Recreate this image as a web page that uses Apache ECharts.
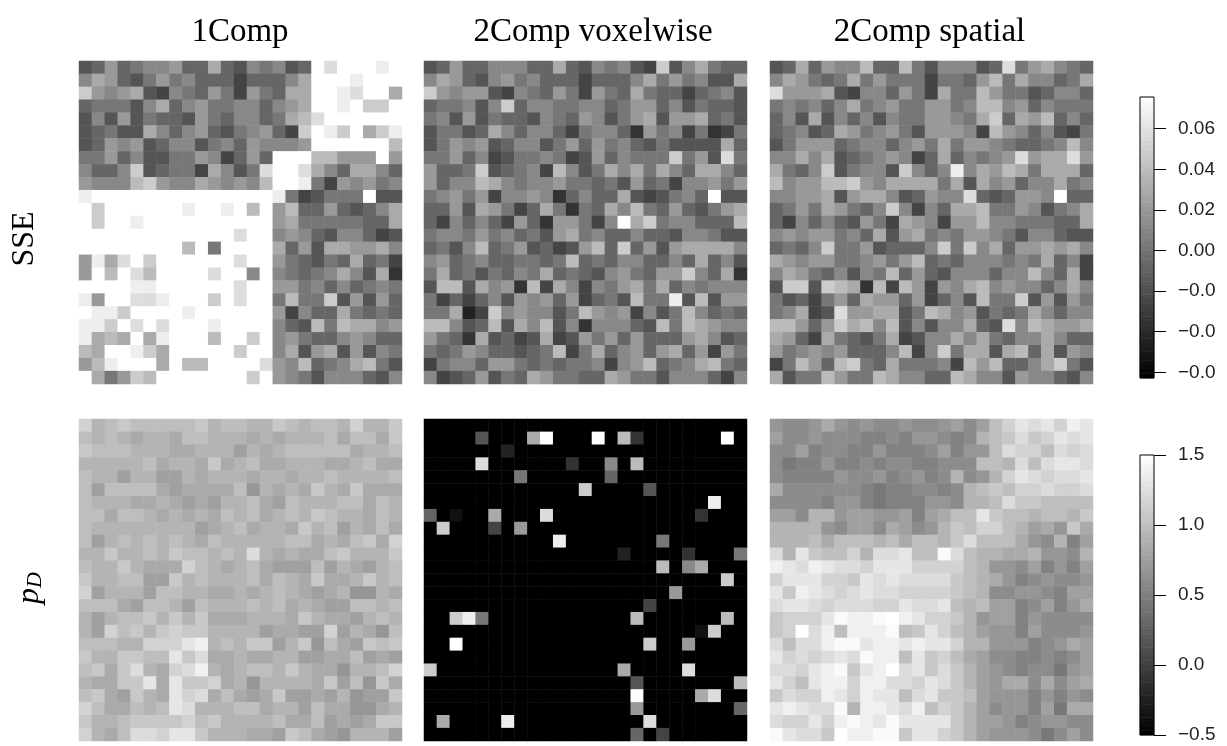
<!DOCTYPE html>
<html><head><meta charset="utf-8">
<style>html,body{margin:0;padding:0;background:#fff}#c{width:1227px;height:746px}</style>
<script src="https://cdn.jsdelivr.net/npm/echarts@6/dist/echarts.min.js"></script>
</head><body><div id="c"></div>
<script>
// Each string is one row of cells, top to bottom; each character is a level.
const sse1Comp = [
"5696788966a6587856fdfffef","8a965797866646668afffefff","c989a54876974976aaffedffa","677758a6897788689affefccf","5859576659768867abdffffff",
"56755a86896578964cfecface","569895688578698889ffffffb","779685577984696fffbb999f9","8668c56774a857dffda86aa86","9888bc988a9898bffe7498978",
"effffffffffffffe745777f55","fcffffffeffefbf9b6696568a","fcffeffffffffff9a7777766a","ffffffffffffdff8986588645","ffffffffbf7ffffa695aa99a8",
"9eadfcffffffdff976576a674","9fbfdbffffdff8f87678a85a3","ffffeeffffffdff9978686787","e9ffddefffcfdff7b77c59596","feecffffeffffff94866a7676",
"eecfdfdfffeffff865b7baa89","eabafaefffbffcf8976689866","baffecafffffcff8a59a59587","9befffafbbffffd98b678ab75","fa79cbfffffffcf9875888658"
];
const sseVoxelwise = [
"5696688866a6587854c58a766","8a965897866646668a797855a","c989954876974976a76646785","677858c688778867996857665","78595766587698579a599a675",
"57756a8688647886397847347","57989568857969786575555a6","7796845778745968777c795d7","9667c56784b857a8a7a86aa86","9688ba8788977675967488979",
"789794889836866a545786f55","6695a9746a7376a8b7696579a","648686496399748fac788666b","78879786759a7866866588755","6758b67956459b6c6959aaaa8",
"89678667767b676886686a685","7a6757687a6765897699c86a3","5bb5a893b4a84879a7a687888","7464685989694675b77e5b599","77a24c898857b9894857b8676",
"bb856b5a8b58388865b7ba988","9763a5645a45979696669a856","7679866567b47a68969a69497","47886997676778489b678ab76","84569576a97766a9775888648"
];
const sseSpatial = [
"56a6988b66b7588856d79a876","8a9767a7977747769b7a8867a","d999a54886974a77b97756886","787868a789779978bb8968777","685a586858779987ac6a9b686",
"67856a97897599984b9868547","5799967886897a799876678b8","88a8a56789846a68789d9aad9","a768c57885c868e8a9ba7aaa6","b899bbc98aaaa7a5a89688a78",
"8899a59aa856988d656998f66","6797a9768c8486aab7798578a","6486865974a98499b8877766a","89899786a59a7879987588655","6768c77956668c7c8a699a9a8",
"a9899778979b676888787a684","8a9768587b6965888688b86a4","5cc5cba3b4b9498ab898868a8","7564796a99694685b77c59597","78a45d99aa57ba895767a8688",
"bb969cab8b58588a65d8ba99a","a964a7657a4588a8a7688a866","9789896668b48c7aa5ab6a598","47b96bc76a77784b9b668ac75","a577b977ba8866ba885988658"
];
const pD1Comp = [
"6345444445344335434436335","4343233244333232333424425","5444333223331323444442334","3333342332523422333223422","4331331132333233233433334",
"4144442122224032325325222","4333223212133421433344243","4424432323243423435433243","4333333331234233253413242","4134343432433333442324526",
"3353343544343732322453335","4335322264323421114132134","5334411534333424325223534","6133314433223234321230032","4442144314333434232114434",
"3134453535222333253221343","3164535655333312211613204","4443366689343551350421545","5335544857223223311224121","4525732679323443532203346",
"3225582855623033332514052","4521532867242125112130115","6422434873334423314220023","5334555564533334224121255","6324776885333221542103331"
];
const pDVoxelwise = [
"0000000000000000000000000","00005000af000f0b3000000f0","0000002000000000000000000","0000d00000030080b00000000","0000000700000060000000000",
"000000000000c000050000000","0000000000000000000000e00","60100a000d000000000003000","0c00040900000000000000000","0000000000e00000007000000",
"0000000000000002000030007","000000000000000000b08a000","00000000000000000000000c0","0000000000000000000900000","0000000000000000040000000",
"00ce700000000000b000000b0","0000000000000000000001c00","00f00000000000000c0090000","0000000000000000000000000","c00000000000000a0000d0000",
"000000000000000050000000b","0000000000000000f0000ad00","0000000000000000900000006","0a0000e0000000000d0000000","0000000000000000604000000"
];
const pDSpatial = [
"433464343343345358acbcadc","5334333223244323789b9acbc","335233224222352448baa8bab","3122422323322333887b8bccb","322224334234237347acbabbc",
"6333333212233237898aabaab","333324421222443778b998888","5537745544525688c98878879","7777435536534798aa8756496","777868887868879b888643725",
"b7c988a7bbc88eb8776674437","dcbdcbbacccaaaa8744352425","acccaa9cbcbbbb98764234334","c9dcbabcbbaaaa98733443255","bccbabbbaacbbc87855235246",
"9aaaceddefdcaa97455243333","9afbd8ddde89ca87544253334","b8bbdeecddcdcca7744423465","cababcbedd8c9a86533223235","bbacde9cdfbc9b97543233145",
"ca8cddaddbbacb97546636356","9baadcadcc8bc998544424243","cdcbbe7ddcbd8a97534425166","baacadedcecccc97554234433","ecbb9fddee9cca97544431353"
];
const sseTicks = [-0.06,-0.04,-0.02,0,0.02,0.04,0.06];
const sseTickLabels = ["\u22120.0","\u22120.0","\u22120.0","0.00","0.02","0.04","0.06"];
const pDTicks = [-0.5,0,0.5,1,1.5];
const pDTickLabels = ["\u22120.5","0.0","0.5","1.0","1.5"];
const sseRange = [-0.0628,0.0756];
const pDRange = [-0.5,1.5];
const columnTitles = ["1Comp","2Comp voxelwise","2Comp spatial"];
const cells = Array.from({length:25},(_,i)=>i);
const barLevels = Array.from({length:64},(_,i)=>i);

function decode(rows, base, step){
  const out=[];
  rows.forEach((s,y)=>{
    if(s.length!==25) throw new Error("row "+y+" length "+s.length+": "+s);
    for(let x=0;x<25;x++) out.push([x,y,+(base+parseInt(s[x],16)*step).toFixed(4)]);
  });
  return out;
}
const sseStep=(sseRange[1]-sseRange[0])/15, gray=(pDRange[1]-pDRange[0])/255;
const panels=[
 [decode(sse1Comp,sseRange[0],sseStep),0],
 [decode(sseVoxelwise,sseRange[0],sseStep),0],
 [decode(sseSpatial,sseRange[0],sseStep),0],
 [decode(pD1Comp,-0.5+150*gray,10*gray),1],
 [decode(pDVoxelwise,-0.5,17*gray),1],
 [decode(pDSpatial,-0.5+110*gray,10*gray),1]
];
const lefts=[79,424,770], tops=[61,419];
const grid=[],xAxis=[],yAxis=[],series=[];
panels.forEach((p,i)=>{
  const c=i%3,r=i<3?0:1;
  grid.push({left:lefts[c],top:tops[r],width:323,height:r?322:323});
  xAxis.push({type:'category',gridIndex:i,data:cells,show:false});
  yAxis.push({type:'category',gridIndex:i,data:cells,inverse:true,show:false});
  series.push({type:'heatmap',xAxisIndex:i,yAxisIndex:i,data:p[0],progressive:0,itemStyle:{borderWidth:0}});
});
function colorbar(range,top,height,ticks,labels){
  const gi=grid.length;
  grid.push({left:1140,top:top,width:14,height:height,show:true,z:5,borderColor:'#000',borderWidth:1,backgroundColor:'transparent'});
  xAxis.push({type:'category',gridIndex:gi,data:[0],show:false});
  yAxis.push({type:'category',gridIndex:gi,data:barLevels,show:false});
  yAxis.push({type:'value',gridIndex:gi,position:'right',min:range[0],max:range[1],
    axisLine:{show:false},splitLine:{show:false},
    axisTick:{show:true,length:12,customValues:ticks,lineStyle:{color:'#000',width:1}},
    axisLabel:{show:true,margin:24,customValues:ticks,color:'#222',fontFamily:'Liberation Sans',fontSize:19,
      formatter:v=>labels[ticks.findIndex(t=>Math.abs(t-v)<1e-9)]}});
  series.push({type:'heatmap',xAxisIndex:xAxis.length-1,yAxisIndex:yAxis.length-2,progressive:0,
    data:barLevels.map(l=>[0,l,range[0]+(l+0.5)/barLevels.length*(range[1]-range[0])])});
}
colorbar(sseRange,97,281,sseTicks,sseTickLabels);
colorbar(pDRange,455,280,pDTicks,pDTickLabels);
const serif='Liberation Serif';
const titleX=[235,588,924.5];
const chart=echarts.init(document.getElementById('c'),null,{renderer:'canvas'});
chart.setOption({
  animation:false,
  backgroundColor:'#fff',
  title:columnTitles.map((t,i)=>({text:t,left:titleX[i],top:11,textAlign:'center',
    textStyle:{fontFamily:serif,fontWeight:'normal',fontSize:33,color:'#000'}})),
  grid,xAxis,yAxis,series,
  visualMap:[
   {show:false,type:'continuous',min:sseRange[0],max:sseRange[1],seriesIndex:[0,1,2,6],inRange:{color:['#000','#fff']}},
   {show:false,type:'continuous',min:pDRange[0],max:pDRange[1],seriesIndex:[3,4,5,7],inRange:{color:['#000','#fff']}}
  ],
  graphic:[
   {type:'text',x:25,y:239,rotation:Math.PI/2,style:{text:'SSE',fontFamily:serif,fontSize:32,fill:'#000',align:'center',verticalAlign:'middle'}},
   {type:'text',x:30,y:588,rotation:Math.PI/2,style:{text:'{p|p}{d|D}',align:'center',verticalAlign:'middle',
     rich:{p:{fontFamily:serif,fontStyle:'italic',fontSize:32,fill:'#000'},d:{fontFamily:serif,fontStyle:'italic',fontSize:22,fill:'#000',verticalAlign:'bottom'}}}}
  ]
});
</script></body></html>
